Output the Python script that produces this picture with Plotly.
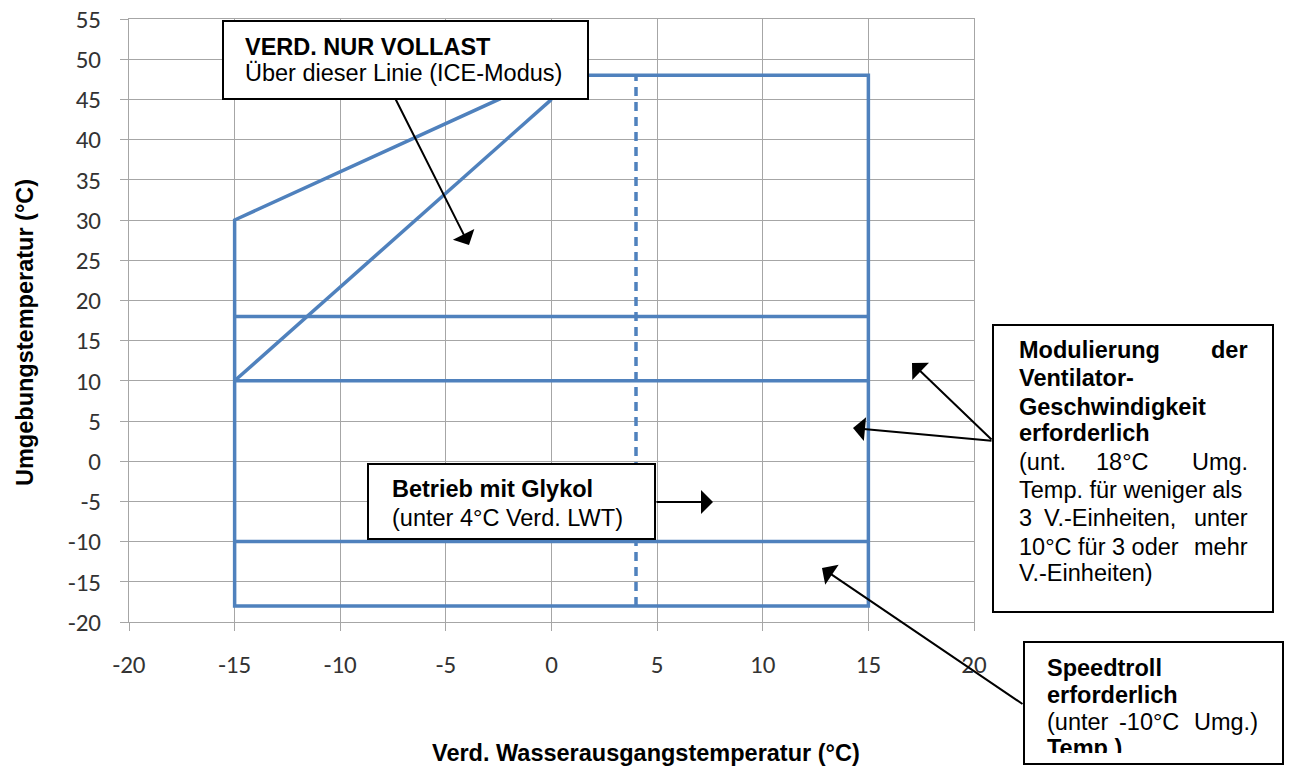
import plotly.graph_objects as go

# ---- data -------------------------------------------------------------
# outer operating envelope (evaporator LWT vs. ambient temperature)
envelope_x = [0, 15, 15, -15, -15, 0]
envelope_y = [48, 48, -18, -18, 30, 48]
# inner diagonal limit
diagonal_x = [-15, 0]
diagonal_y = [10, 45]
# horizontal limits across the envelope
band_x = [-15, 15]
band_levels = [18, 10, -10]
# glycol limit (4 °C LWT)
glycol_x = [4, 4]
glycol_y = [-18, 48]

x_range = [-20, 20]
y_range = [-20, 55]
x_tickvals = [-20, -15, -10, -5, 0, 5, 10, 15, 20]
x_ticktext = ["-20", "-15", "-10", "-5", "0", "5", "10", "15", "20"]
y_tickvals = [-20, -15, -10, -5, 0, 5, 10, 15, 20, 25, 30, 35, 40, 45, 50, 55]
y_ticktext = ["-20", "-15", "-10", "-5", "0", "5", "10", "15", "20",
              "25", "30", "35", "40", "45", "50", "55"]

x_title = "Verd. Wasserausgangstemperatur (°C)"
y_title = "Umgebungstemperatur (°C)"

# ---- styling ----------------------------------------------------------
BLUE = "#4F81BD"
GRID = "#A6A6A6"
TXT = "#000000"
SANS = "Liberation Sans, Arial, sans-serif"
TICKFONT = "Carlito, Lato, sans-serif"
FS = 23.5

W, H = 1289, 769
L, R, T, B = 129, 974, 19, 622


def px(xp):
    return (xp - L) / (R - L)


def py(yp):
    return (B - yp) / (B - T)


fig = go.Figure()

line_style = dict(color=BLUE, width=3.5)
fig.add_trace(go.Scatter(x=envelope_x, y=envelope_y, mode="lines",
                         line=line_style, hoverinfo="skip"))
fig.add_trace(go.Scatter(x=diagonal_x, y=diagonal_y, mode="lines",
                         line=line_style, hoverinfo="skip"))
for lvl in band_levels:
    fig.add_trace(go.Scatter(x=band_x, y=[lvl, lvl], mode="lines",
                             line=line_style, hoverinfo="skip"))
fig.add_trace(go.Scatter(x=glycol_x, y=glycol_y, mode="lines",
                         line=dict(color=BLUE, width=3.5, dash="9px,6px"),
                         hoverinfo="skip"))

# ---- text boxes ------------------------------------------------------
boxes = [
    (223, 21, 588, 99),     # VERD. NUR VOLLAST
    (368, 464, 655, 539),   # Betrieb mit Glykol
    (993, 325, 1273, 612),  # Modulierung ...
    (1024, 642, 1283, 764), # Speedtroll ...
]
shapes = []
for x0, y0, x1, y1 in boxes:
    shapes.append(dict(type="rect", xref="paper", yref="paper",
                       x0=px(x0), x1=px(x1), y0=py(y1), y1=py(y0),
                       line=dict(color="black", width=2),
                       fillcolor="white", layer="above"))

annotations = []


def text(s, xp, yp, bold=False, anchor="left", size=FS):
    annotations.append(dict(
        text=f"<b>{s}</b>" if bold else s,
        xref="paper", yref="paper", x=px(xp), y=py(yp),
        xanchor=anchor, yanchor="middle", showarrow=False,
        font=dict(family=SANS, size=size, color=TXT)))


def arrow(tail, head):
    annotations.append(dict(
        text="", xref="paper", yref="paper",
        x=px(head[0]), y=py(head[1]),
        ax=tail[0] - head[0], ay=tail[1] - head[1],
        showarrow=True, arrowhead=1, arrowsize=2.0, arrowwidth=2,
        arrowcolor="black"))


# box 1
text("VERD. NUR VOLLAST", 243, 47, bold=True)
text("Über dieser Linie (ICE-Modus)", 243, 73)
# box 2
text("Betrieb mit Glykol", 390, 489, bold=True)
text("(unter 4°C Verd. LWT)", 390, 518)
# box 3 (justified block)
LX, RX = 1017, 1250
text("Modulierung", LX, 350, bold=True)
text("der", RX, 350, bold=True, anchor="right")
text("Ventilator-", LX, 378, bold=True)
text("Geschwindigkeit", LX, 407, bold=True)
text("erforderlich", LX, 433, bold=True)
text("(unt.", LX, 462)
text("18°C", 1122, 462, anchor="center")
text("Umg.", RX, 462, anchor="right")
text("Temp. für weniger als", LX, 490)
text("3", LX, 518)
text("V.-Einheiten,", 1110, 518, anchor="center")
text("unter", RX, 518, anchor="right")
text("10°C für 3 oder", LX, 547)
text("mehr", RX, 547, anchor="right")
text("V.-Einheiten)", LX, 573)
# box 4
SX = 1045
text("Speedtroll", SX, 668, bold=True)
text("erforderlich", SX, 695, bold=True)
text("(unter", SX, 722)
text("-10°C", 1149, 722, anchor="center")
text("Umg.)", 1260, 722, anchor="right")
text("Temp )", SX, 748, bold=True)
# overflowing last line is cut off by the text box
annotations.append(dict(text="", xref="paper", yref="paper",
                        x=px(1026), y=py(753), xanchor="left", yanchor="top",
                        width=255, height=9, bgcolor="white",
                        borderpad=0, borderwidth=0, showarrow=False))

# arrows
arrow((395, 98), (469, 245))
arrow((655, 502), (713, 502))
arrow((993, 441), (912, 363))
arrow((993, 441), (853, 428))
arrow((1024, 705), (822, 568))

# axis titles
annotations.append(dict(text=f"<b>{x_title}</b>", xref="paper", yref="paper",
                        x=px(646), y=py(753), xanchor="center", yanchor="middle",
                        showarrow=False, font=dict(family=SANS, size=FS, color=TXT)))
annotations.append(dict(text=f"<b>{y_title}</b>", xref="paper", yref="paper",
                        x=px(25), y=py(333), xanchor="center", yanchor="middle",
                        textangle=-90, showarrow=False,
                        font=dict(family=SANS, size=FS, color=TXT)))

axis_common = dict(
    showgrid=True, gridcolor=GRID, gridwidth=1,
    showline=True, linecolor=GRID, linewidth=1, mirror=True,
    ticks="outside", ticklen=8, tickcolor=GRID, tickwidth=1,
    zeroline=False, tickmode="array", automargin=False,
    tickfont=dict(family=TICKFONT, size=25, color="#333333"),
)

fig.update_layout(
    width=W, height=H,
    margin=dict(l=L, r=W - R, t=T, b=H - B, autoexpand=False),
    paper_bgcolor="white", plot_bgcolor="white",
    showlegend=False,
    xaxis=dict(range=x_range, tickvals=x_tickvals, ticktext=x_ticktext,
               ticklabelstandoff=12, **axis_common),
    yaxis=dict(range=y_range, tickvals=y_tickvals, ticktext=y_ticktext,
               ticklabelstandoff=14, **axis_common),
    shapes=shapes,
    annotations=annotations,
)

fig.write_html("out.html")
